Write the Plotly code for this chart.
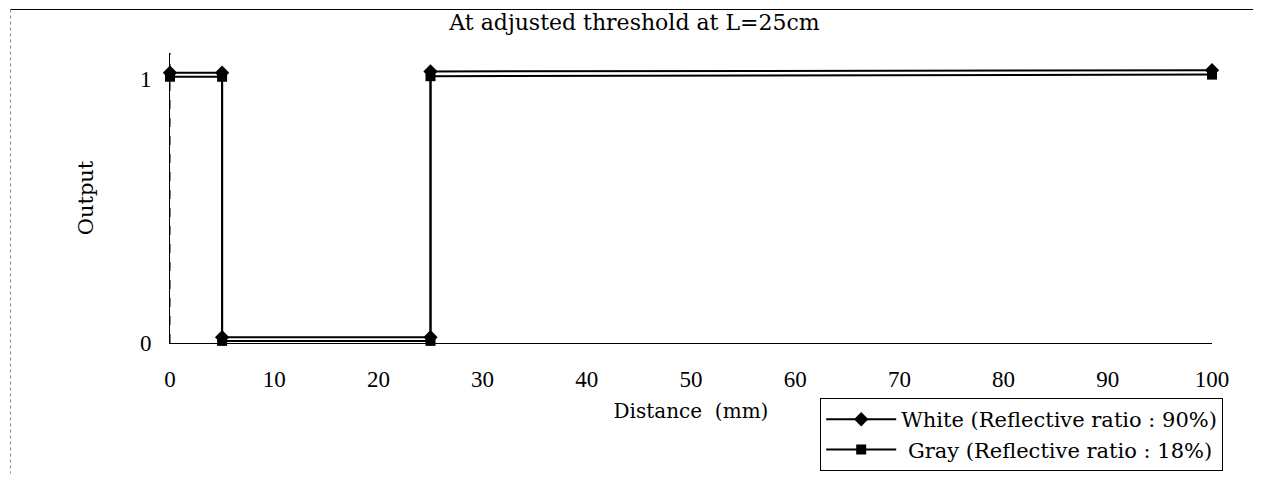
import plotly.graph_objects as go

# distance (mm) and sensor output
distance = [0, 5, 5, 25, 25, 100]
white_output = [1.025, 1.025, 0.022, 0.022, 1.03, 1.035]
gray_output = [1.01, 1.01, 0.008, 0.008, 1.012, 1.018]

x_ticks = [0, 10, 20, 30, 40, 50, 60, 70, 80, 90, 100]
y_ticks = [0, 1]

SERIF = "DejaVu Serif, Liberation Serif, serif"
DIGITS = "Liberation Serif, serif"

fig = go.Figure()
fig.add_trace(go.Scatter(
    x=distance, y=white_output, mode="lines+markers",
    name="White (Reflective ratio : 90%)",
    line=dict(color="black", width=2),
    marker=dict(symbol="diamond", size=11, color="black"),
    cliponaxis=False
))
fig.add_trace(go.Scatter(
    x=distance, y=gray_output, mode="lines+markers",
    name=" Gray (Reflective ratio : 18%)",
    line=dict(color="black", width=2),
    marker=dict(symbol="square", size=10, color="black"),
    cliponaxis=False
))

# the page body adds an 8px margin, so the figure is 8px smaller each way
fig.update_layout(
    width=1253, height=475,
    margin=dict(l=162, r=49, t=45, b=140, autoexpand=False),
    paper_bgcolor="white", plot_bgcolor="white",
    font=dict(family=SERIF, color="black", size=17),
    title=dict(text="At adjusted threshold at L=25cm", x=0.5, xanchor="center",
               y=0.97, yanchor="middle", font=dict(size=22)),
    showlegend=True,
    legend=dict(x=0.624, y=-0.19, xanchor="left", yanchor="top",
                bordercolor="black", borderwidth=1, bgcolor="white",
                font=dict(size=21), tracegroupgap=8, itemwidth=70),
    shapes=[
        dict(type="line", xref="paper", yref="paper", x0=-0.153, x1=1.047,
             y0=1.15, y1=1.15, line=dict(color="black", width=1)),
        dict(type="line", xref="paper", yref="paper", x0=-0.153, x1=-0.153,
             y0=1.15, y1=-0.45, line=dict(color="#888", width=1, dash="dot")),
    ],
)
fig.update_xaxes(
    range=[0, 100], tickvals=x_ticks, showgrid=False, zeroline=False,
    showline=True, linecolor="black", linewidth=1,
    ticks="", ticklabelstandoff=15, tickfont=dict(family=DIGITS, size=23),
    title=dict(text="Distance  (mm)", standoff=13, font=dict(size=20))
)
fig.update_yaxes(
    range=[0, 1.1], tickvals=y_ticks, showgrid=False, zeroline=False,
    showline=True, linecolor="black", linewidth=1,
    ticks="", ticklabelstandoff=13, tickfont=dict(family=DIGITS, size=23),
    title=dict(text="Output", standoff=40, font=dict(size=21))
)
fig.add_shape(type="line", xref="x", yref="y", x0=0, x1=0, y0=0, y1=1.1,
              line=dict(color="black", width=1, dash="dash"))

fig.write_html("out.html")
